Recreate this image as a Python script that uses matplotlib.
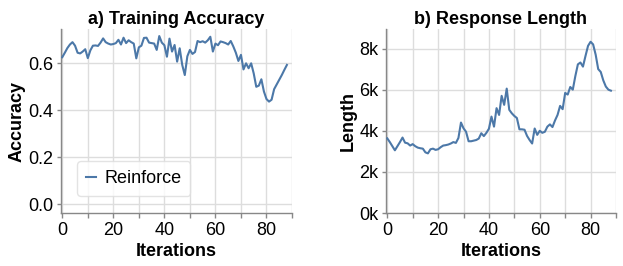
import matplotlib
matplotlib.use("Agg")
import matplotlib.pyplot as plt
from matplotlib.ticker import FuncFormatter, MultipleLocator, FixedLocator

# ---------------- data ----------------
iterations = list(range(89))

accuracy = [
    0.626, 0.645, 0.665, 0.680, 0.690, 0.675, 0.645, 0.642, 0.650, 0.660,
    0.622, 0.655, 0.675, 0.676, 0.674, 0.688, 0.706, 0.690, 0.684, 0.680,
    0.682, 0.686, 0.700, 0.680, 0.709, 0.686, 0.698, 0.690, 0.684, 0.621,
    0.668, 0.675, 0.708, 0.709, 0.688, 0.686, 0.684, 0.657, 0.716, 0.688,
    0.677, 0.628, 0.705, 0.650, 0.678, 0.607, 0.664, 0.593, 0.550, 0.630,
    0.657, 0.640, 0.648, 0.695, 0.690, 0.694, 0.688, 0.698, 0.713, 0.650,
    0.684, 0.677, 0.693, 0.690, 0.686, 0.680, 0.695, 0.672, 0.645, 0.610,
    0.636, 0.574, 0.600, 0.579, 0.600, 0.557, 0.500, 0.505, 0.532, 0.480,
    0.448, 0.437, 0.445, 0.490, 0.510, 0.530, 0.550, 0.572, 0.593,
]

length = [
    3630, 3450, 3250, 3050, 3250, 3450, 3670, 3420, 3390, 3280,
    3350, 3250, 3180, 3150, 3130, 2950, 2900, 3100, 3130, 3070,
    3100, 3200, 3280, 3300, 3330, 3380, 3450, 3410, 3650, 4400,
    4120, 3950, 3490, 3490, 3520, 3550, 3620, 3880, 3740, 3900,
    4100, 4690, 4200, 5100, 4770, 5700, 5260, 6050, 5020, 4850,
    4720, 4620, 4070, 4070, 4050, 3750, 3550, 3380, 4110, 3800,
    4000, 3900, 3950, 4200, 4310, 4180, 4500, 4770, 5210, 5050,
    5840, 5760, 6130, 6000, 6660, 7230, 7320, 7120, 7640, 8130,
    8330, 8200, 7700, 7000, 6860, 6450, 6150, 6000, 5950,
]

series_name = "Reinforce"
titles = ["a) Training Accuracy", "b) Response Length"]
ylabels = ["Accuracy", "Length"]
xlabel = "Iterations"
x_ticks = [0, 20, 40, 60, 80]
acc_ticks = [0.0, 0.2, 0.4, 0.6]
len_ticks = [0, 2000, 4000, 6000, 8000]

# ---------------- style ----------------
plt.rcParams['font.family'] = ['Liberation Sans', 'DejaVu Sans']
LINE = "#4c78a8"
GRID = "#dddddd"
DOMAIN = "#888888"
FS = 13

fig = plt.figure(figsize=(6.23, 2.66), dpi=100)
W, H = 623, 266
axA = fig.add_axes([61 / W, 1 - 213 / H, 231 / W, 184 / H])
axB = fig.add_axes([386 / W, 1 - 213 / H, 230 / W, 184 / H])


def style(ax, yticks):
    ax.set_xlim(-0.5, 90)
    ax.xaxis.set_major_locator(MultipleLocator(10))
    ax.xaxis.set_major_formatter(FuncFormatter(lambda v, p: f"{int(round(v))}" if int(round(v)) in x_ticks else ""))
    ax.yaxis.set_major_locator(FixedLocator(yticks))
    ax.grid(True, color=GRID, linewidth=1.0, zorder=0)
    ax.set_axisbelow(True)
    for s in ["top", "right"]:
        ax.spines[s].set_visible(False)
    for s in ["left", "bottom"]:
        ax.spines[s].set_color(DOMAIN)
        ax.spines[s].set_linewidth(1.0)
    ax.tick_params(axis="x", colors=DOMAIN, labelcolor="black", length=3.6, width=1,
                   labelsize=FS, pad=3)
    ax.tick_params(axis="y", colors=DOMAIN, labelcolor="black", length=3.2, width=1,
                   labelsize=FS, pad=2.2)
    ax.set_xlabel(xlabel, fontsize=FS, fontweight="bold", labelpad=2.5)


axA.plot(iterations, accuracy, color=LINE, linewidth=1.5, label=series_name, zorder=3)
style(axA, acc_ticks)
axA.set_ylim(-0.037, 0.746)
axA.yaxis.set_major_formatter(FuncFormatter(lambda v, p: f"{v:.1f}"))
axA.set_title(titles[0], fontsize=FS, fontweight="bold", pad=3.5)
axA.set_ylabel(ylabels[0], fontsize=FS, fontweight="bold", labelpad=2)
leg = axA.legend(loc="lower left", bbox_to_anchor=(0.069, 0.092), fontsize=FS,
                 handlelength=0.55, handletextpad=0.45, borderpad=0.5,
                 frameon=True, fancybox=True, borderaxespad=0)
leg.get_frame().set_edgecolor(GRID)
leg.get_frame().set_linewidth(1.0)
for h in leg.get_lines():
    h.set_linewidth(1.5)

axB.plot(iterations, length, color=LINE, linewidth=1.5, zorder=3)
style(axB, len_ticks)
axB.set_ylim(0, 8950)
axB.yaxis.set_major_formatter(FuncFormatter(lambda v, p: f"{v/1000:.0f}k"))
axB.set_title(titles[1], fontsize=FS, fontweight="bold", pad=3.5)
axB.set_ylabel(ylabels[1], fontsize=FS, fontweight="bold", labelpad=2)

fig.savefig("out.png", dpi=100)
